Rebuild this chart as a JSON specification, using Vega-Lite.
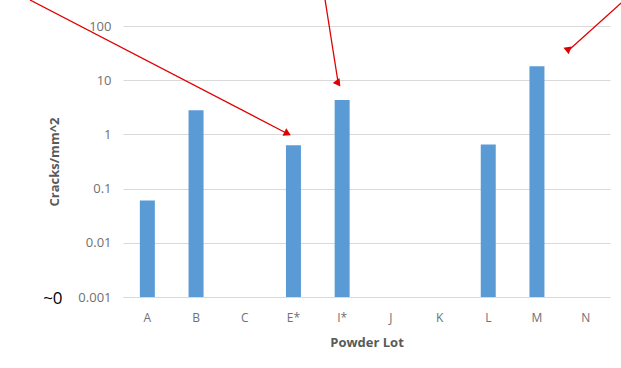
{
  "$schema": "https://vega.github.io/schema/vega-lite/v6.json",
  "width": 487,
  "height": 271,
  "autosize": "none",
  "padding": {"left": 123, "top": 26, "right": 11, "bottom": 71},
  "background": "white",
  "config": {"view": {"stroke": null}, "font": "Open Sans"},
  "datasets": {
    "lots": [
      {"lot": "A", "cracks": 0.06},
      {"lot": "B", "cracks": 2.8},
      {"lot": "C", "cracks": null},
      {"lot": "E*", "cracks": 0.63},
      {"lot": "I*", "cracks": 4.3},
      {"lot": "J", "cracks": null},
      {"lot": "K", "cracks": null},
      {"lot": "L", "cracks": 0.65},
      {"lot": "M", "cracks": 18},
      {"lot": "N", "cracks": null}
    ],
    "arrows": [
      {"target": "E*", "x0": -1.91, "y0": 302, "x1": 3.38, "y1": 1.03},
      {"target": "I*", "x0": 4.15, "y0": 302, "x1": 4.42, "y1": 8.7},
      {"target": "M", "x0": 10.23, "y0": 266, "x1": 9.14, "y1": 35}
    ],
    "notes": [{"text": "~0", "xi": -1.44, "cracks": 0.001}]
  },
  "layer": [
    {
      "data": {"name": "lots"},
      "mark": {"type": "bar", "color": "#5B9BD5", "size": 15},
      "encoding": {
        "x": {
          "field": "lot", "type": "nominal", "sort": null,
          "scale": {"domain": ["A","B","C","E*","I*","J","K","L","M","N"], "paddingInner": 0, "paddingOuter": 0},
          "axis": {"labelAngle": 0, "labelColor": "#707070", "labelFontSize": 12, "ticks": false, "domain": true, "domainColor": "#D9D9D9", "labelPadding": 15, "title": "Powder Lot", "titleFontWeight": "bold", "titleFontSize": 13, "titleColor": "#595959", "titlePadding": 13, "grid": false}
        },
        "y": {
          "field": "cracks", "type": "quantitative",
          "scale": {"type": "log", "domain": [0.001, 100], "nice": false},
          "axis": {"values": [0.001, 0.01, 0.1, 1, 10, 100], "format": "~g", "domain": false, "ticks": false, "grid": true, "gridColor": "#D9D9D9", "labelColor": "#707070", "labelFontSize": 13, "labelPadding": 12, "title": "Cracks/mm^2", "titleFontWeight": "bold", "titleFontSize": 13, "titleColor": "#595959", "titlePadding": 16}
        },
        "y2": {"datum": 0.001}
      }
    },
    {
      "data": {"name": "arrows"},
      "mark": {"type": "rule", "color": "#E00000", "strokeWidth": 1.3, "clip": false},
      "encoding": {
        "x": {"field": "x0", "type": "quantitative", "scale": {"domain": [0, 10], "nice": false, "zero": false}, "axis": null},
        "x2": {"field": "x1"},
        "y": {"field": "y0", "type": "quantitative"},
        "y2": {"field": "y1"}
      }
    },
    {
      "data": {"name": "arrows"},
      "mark": {"type": "point", "shape": "triangle-up", "filled": true, "color": "#E00000", "size": 70, "opacity": 1},
      "encoding": {
        "x": {"field": "x1", "type": "quantitative", "scale": {"domain": [0, 10], "nice": false, "zero": false}, "axis": null},
        "y": {"field": "y1", "type": "quantitative"},
        "angle": {"field": "target", "type": "nominal", "scale": {"domain": ["E*", "I*", "M"], "range": [117, 171, 228]}, "legend": null}
      }
    },
    {
      "data": {"name": "notes"},
      "mark": {"type": "text", "fontSize": 17, "color": "black", "dy": 2},
      "encoding": {
        "x": {"field": "xi", "type": "quantitative", "scale": {"domain": [0, 10], "nice": false, "zero": false}, "axis": null},
        "y": {"field": "cracks", "type": "quantitative"},
        "text": {"field": "text"}
      }
    }
  ],
  "resolve": {"scale": {"x": "independent"}, "axis": {"x": "independent"}}
}
